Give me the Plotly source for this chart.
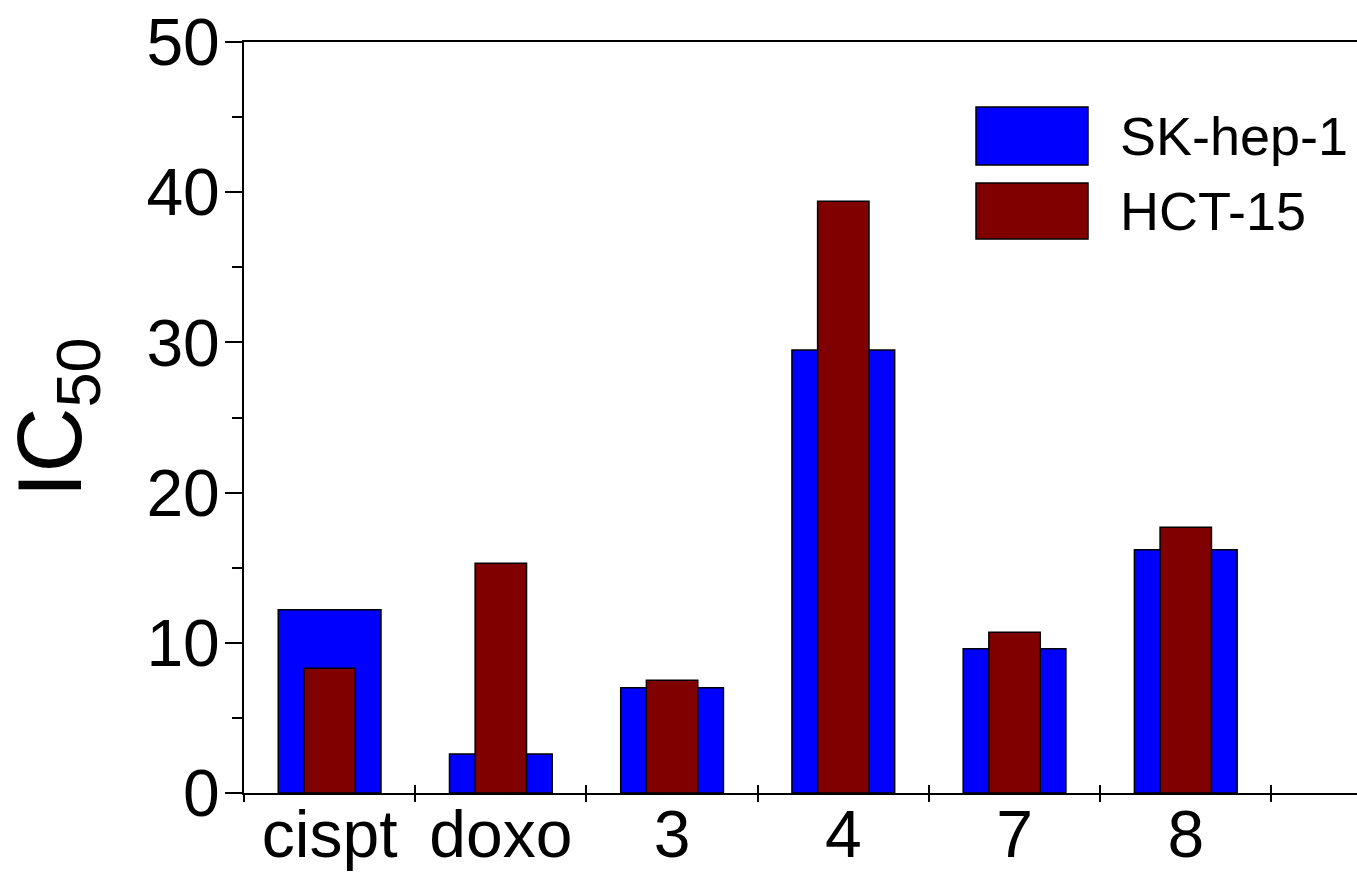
import plotly.graph_objects as go

categories = ["cispt", "doxo", "3", "4", "7", "8"]
sk_hep_1 = [12.2, 2.6, 7.0, 29.5, 9.6, 16.2]
hct_15 = [8.3, 15.3, 7.5, 39.4, 10.7, 17.7]
y_ticks = [0, 10, 20, 30, 40, 50]

positions = list(range(len(categories)))
boundaries = [p - 0.5 for p in positions] + [positions[-1] + 0.5]
xrange_ = [-0.5, 6.0]
FONT = "Liberation Sans, Arial, Helvetica, sans-serif"
BLUE = "#0000FF"
RED = "#800000"

fig = go.Figure()
fig.add_trace(go.Bar(
    x=positions, y=sk_hep_1, width=0.6, name="SK-hep-1",
    marker=dict(color=BLUE, line=dict(color="black", width=1.5)),
    xaxis="x", yaxis="y",
))
fig.add_trace(go.Bar(
    x=positions, y=hct_15, width=0.3, name="HCT-15",
    marker=dict(color=RED, line=dict(color="black", width=1.5)),
    xaxis="x2", yaxis="y",
))

fig.update_layout(
    width=1357, height=875,
    margin=dict(l=244, r=0, t=42, b=82, autoexpand=False),
    paper_bgcolor="white", plot_bgcolor="white",
    barmode="overlay", showlegend=False,
    font=dict(family=FONT, color="black"),
    xaxis=dict(
        range=xrange_, tickmode="array", tickvals=positions, ticktext=categories,
        ticks="", automargin=False, ticklabelstandoff=-17,
        tickfont=dict(size=66, family=FONT),
        showline=True, linecolor="black", linewidth=2, mirror=True,
        showgrid=False, zeroline=False,
        minor=dict(tickmode="array", tickvals=boundaries, ticks="outside",
                   ticklen=7, tickwidth=2, tickcolor="black", showgrid=False),
    ),
    xaxis2=dict(
        range=xrange_, overlaying="x", anchor="y", side="bottom",
        tickmode="array", tickvals=boundaries, ticks="inside", ticklen=8,
        tickwidth=2, tickcolor="black", showticklabels=False,
        showline=False, showgrid=False, zeroline=False,
    ),
    yaxis=dict(
        range=[0, 50], tickmode="array", tickvals=y_ticks, automargin=False,
        ticks="outside", ticklen=17, tickwidth=2, tickcolor="black",
        ticklabelstandoff=-8,
        tickfont=dict(size=66, family=FONT),
        showline=True, linecolor="black", linewidth=2,
        showgrid=False, zeroline=False,
        minor=dict(dtick=5, tick0=0, ticks="outside", ticklen=10, tickwidth=2,
                   tickcolor="black", showgrid=False),
        title=dict(text="IC<sub>50</sub>", font=dict(size=90, family=FONT), standoff=41),
    ),
)

# Legend drawn as large swatches
legend_items = [("SK-hep-1", BLUE, 0.9135, 0.8362), ("HCT-15", RED, 0.8123, 0.7377)]
for name, color, y1, y0 in legend_items:
    fig.add_shape(type="rect", xref="paper", yref="paper",
                  x0=0.6577, x1=0.7583, y0=y0, y1=y1,
                  fillcolor=color, line=dict(color="black", width=1.5))
    fig.add_annotation(xref="paper", yref="paper", x=0.7853, y=(y0 + y1) / 2,
                       text=name, showarrow=False, xanchor="left", yanchor="middle",
                       font=dict(size=54, family=FONT, color="black"))

fig.write_html("out.html", config={"displayModeBar": False},
               post_script="document.body.style.margin='0';")
